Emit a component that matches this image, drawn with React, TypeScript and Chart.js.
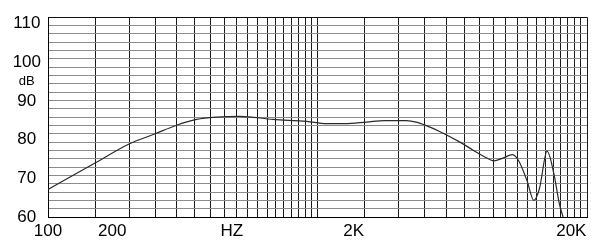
import React, { useEffect, useRef } from 'react';
import { Chart, registerables } from 'chart.js';

Chart.register(...registerables);

// Frequency response curve (Hz, dB)
const frequencies = [100, 150, 199, 250, 300, 356, 423, 515, 685, 911, 1080, 1262, 1519, 1775, 2136, 2326, 2533, 2838, 3365, 3793, 4130, 4516, 4870, 5290, 5590, 5995, 6350, 6660, 7110, 7540, 7890, 8150];
const levels = [67.1, 74.0, 78.8, 81.5, 83.7, 85.2, 85.8, 86.0, 85.2, 84.7, 84.1, 84.1, 84.5, 84.9, 84.9, 84.5, 83.6, 82.1, 79.4, 77.2, 75.7, 74.5, 75.2, 76.1, 74.4, 69.3, 64.3, 67.3, 77.0, 71.1, 63.5, 60.0];

// Vertical grid lines of the log paper
const xGridValues = [
  100, 150, 200, 250, 300, 350, 400, 450, 500, 550, 600, 650, 700, 750, 800, 850, 900, 950, 1000,
  1500, 2000, 2500, 3000, 3500, 4000, 4500, 5000, 5500, 6000, 6500, 7000, 7500, 8000, 8500, 9000, 9500, 10000,
];
// Printed x labels and where they sit on the paper
const xLabelValues = [100, 173, 481, 1363, 8746];
const xLabelTexts = ['100', '200', 'HZ', '2K', '20K'];

// Y axis
const yMin = 60;
const yMax = 111.6;
const yGridCount = 24;
const yLabelValues = [60, 70, 80, 90, 95, 100, 110];
const yLabelTexts = ['60', '70', '80', '90', 'dB', '100', '110'];

const FONT = '"Liberation Sans", Arial, Helvetica, sans-serif';

const near = (a: number, b: number) => Math.abs(a - b) < 1e-6;

export default function App() {
  const ref = useRef<HTMLCanvasElement>(null);

  useEffect(() => {
    document.body.style.margin = '0';
    const yGridValues: number[] = [];
    for (let k = 0; k <= yGridCount; k++) yGridValues.push(yMin + (k * (yMax - yMin)) / yGridCount);

    const chart = new Chart(ref.current as HTMLCanvasElement, {
      type: 'line',
      data: {
        datasets: [
          {
            data: frequencies.map((f, i) => ({ x: f, y: levels[i] })),
            borderColor: '#2a2a2a',
            borderWidth: 1.2,
            pointRadius: 0,
            fill: false,
            cubicInterpolationMode: 'monotone',
          },
        ],
      },
      options: {
        animation: false,
        responsive: false,
        devicePixelRatio: 1,
        layout: { padding: { top: 13, right: 3, left: 0, bottom: 0 } },
        plugins: { legend: { display: false }, tooltip: { enabled: false } },
        scales: {
          x: {
            type: 'logarithmic',
            min: 100,
            max: 10000,
            afterBuildTicks: (s: any) => {
              const vals = Array.from(new Set([...xGridValues, ...xLabelValues])).sort((a, b) => a - b);
              s.ticks = vals.map((v) => ({ value: v }));
            },
            afterFit: (s: any) => {
              s.height = 24;
            },
            grid: {
              drawTicks: false,
              lineWidth: 1,
              color: (ctx: any) =>
                ctx.tick && xGridValues.includes(ctx.tick.value) ? '#1a1a1a' : 'rgba(0,0,0,0)',
            },
            border: { display: true, color: '#000', width: 1 },
            ticks: {
              autoSkip: false,
              maxRotation: 0,
              minRotation: 0,
              padding: 4,
              color: '#000',
              font: { family: FONT, size: 17 },
              callback: (v: any) => {
                const i = xLabelValues.indexOf(Number(v));
                return i >= 0 ? xLabelTexts[i] : '';
              },
            },
          },
          y: {
            type: 'linear',
            min: yMin,
            max: yMax,
            afterBuildTicks: (s: any) => {
              const vals = [...yGridValues];
              yLabelValues.forEach((v) => {
                if (!vals.some((g) => near(g, v))) vals.push(v);
              });
              vals.sort((a, b) => a - b);
              s.ticks = vals.map((v) => ({ value: v }));
            },
            afterFit: (s: any) => {
              s.width = 48;
            },
            grid: {
              drawTicks: false,
              lineWidth: 1,
              color: (ctx: any) => {
                if (!ctx.tick) return 'rgba(0,0,0,0)';
                const v = ctx.tick.value;
                if (near(v, yMax)) return '#111';
                return yGridValues.some((g) => near(g, v)) ? '#8c8c8c' : 'rgba(0,0,0,0)';
              },
            },
            border: { display: true, color: '#000', width: 1 },
            ticks: {
              autoSkip: false,
              crossAlign: 'center',
              padding: 7,
              color: '#000',
              font: (ctx: any) => ({
                family: FONT,
                size: ctx.tick && near(ctx.tick.value, 95) ? 13 : 17,
              }),
              callback: (v: any) => {
                const i = yLabelValues.findIndex((l) => near(l, Number(v)));
                return i >= 0 ? yLabelTexts[i] : '';
              },
            },
          },
        },
      },
    } as any);
    return () => chart.destroy();
  }, []);

  return (
    <div style={{ width: 591, height: 241, background: '#fff' }}>
      <canvas ref={ref} width={591} height={241} style={{ display: 'block' }} />
    </div>
  );
}
